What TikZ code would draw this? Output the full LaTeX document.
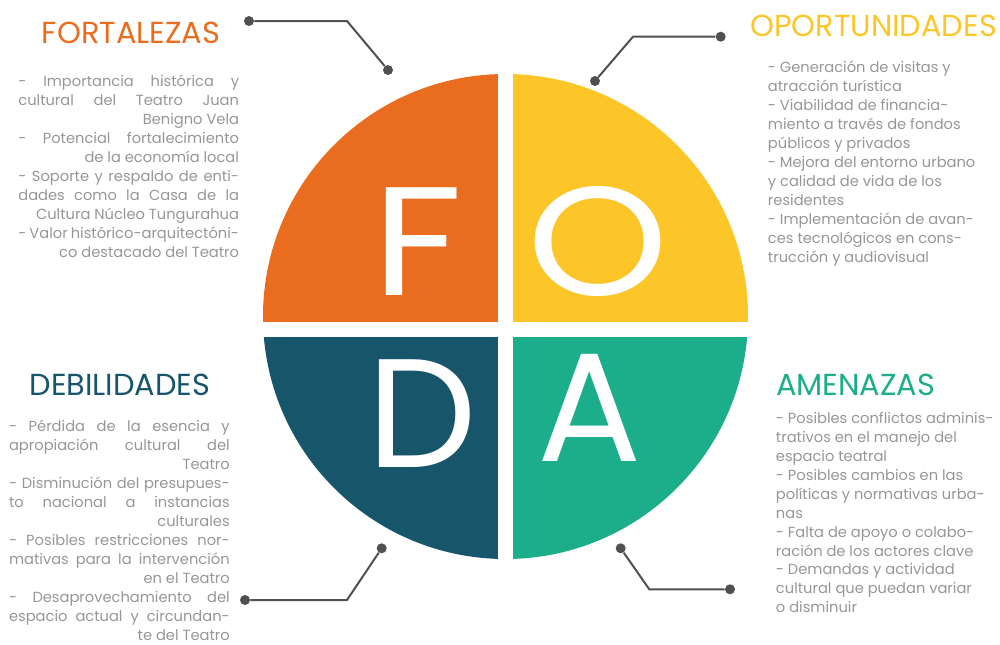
\documentclass[tikz,border=0pt]{standalone}
\usepackage{fontspec}
\setmainfont{Poppins}
\usetikzlibrary{positioning}

\definecolor{cF}{RGB}{234,108,30}
\definecolor{cO}{RGB}{252,198,40}
\definecolor{cD}{RGB}{23,86,106}
\definecolor{cA}{RGB}{28,174,138}
\definecolor{txtgray}{RGB}{150,150,150}
\definecolor{lngray}{RGB}{80,80,80}

% one line of a justified block, and a flush right last line
\newlength{\lw}
\setlength{\lw}{165.5pt}
\newcommand{\jl}[1]{\makebox[\lw][s]{#1}}
\newcommand{\rl}[1]{\makebox[\lw][r]{#1}}

\begin{document}
\begin{tikzpicture}[
  x=0.75pt, y=-0.75pt,
  ttl/.style={anchor=base west, inner sep=0pt, font=\fontsize{22.8}{22.8}\selectfont},
  txt/.style={inner sep=0pt, align=left, text=txtgray, font=\fontsize{11}{14.2}\selectfont},
  big/.style={anchor=base, inner sep=0pt, text=white, font=\fontsize{116}{116}\selectfont},
  wide/.style={font=\fontsize{116}{116}\selectfont\addfontfeatures{FakeStretch=1.16}},
  dot/.style={circle, fill=lngray, inner sep=0pt, minimum size=7.5pt},
  ln/.style={draw=lngray, line width=1.5pt}
]
\useasboundingbox (0,0) rectangle (1000,644);

% the disc in four quarters
\begin{scope}
  \clip (505.5,316.5) circle (242.5);
  \fill[cF] (255,65) rectangle (505.5,329);
  \fill[cO] (505.5,65) rectangle (755,329);
  \fill[cD] (255,329) rectangle (505.5,565);
  \fill[cA] (505.5,329) rectangle (755,565);
\end{scope}
\fill[white] (498,60) rectangle (513,570);
\fill[white] (255,321.7) rectangle (755,336.7);

\node[big, wide] (F) at (418,295.7) {F};
\node[big, wide] (O) at (598,295.7) {O};
\node[big] (D) at (422,467) {D};
\node[big] (A) at (590,461.7) {A};

% titles
\node[ttl, text=cF] (fort) at (41.7,43.3) {FORTALEZAS};
\node[ttl, text=cO] (oport) at (750,36) {OPORTUNIDADES};
\node[ttl, text=cD] (debil) at (29.3,395) {DEBILIDADES};
\node[ttl, text=cA] (amen) at (776,395) {AMENAZAS};

% lists
\node[txt, anchor=north east] (fortlist) at (239.3,75) {%
  \jl{- Importancia histórica y}\\
  \jl{cultural del Teatro Juan}\\
  \rl{Benigno Vela}\\
  \jl{- Potencial fortalecimiento}\\
  \rl{de la economía local}\\
  \jl{- Soporte y respaldo de enti-}\\
  \jl{dades como la Casa de la}\\
  \rl{Cultura Núcleo Tungurahua}\\
  \jl{- Valor histórico-arquitectóni-}\\
  \rl{co destacado del Teatro}};
\node[txt, anchor=north west] (oportlist) at (767.7,61) {%
  - Generación de visitas y\\
  atracción turística\\
  - Viabilidad de financia-\\
  miento a través de fondos\\
  públicos y privados\\
  - Mejora del entorno urbano\\
  y calidad de vida de los\\
  residentes\\
  - Implementación de avan-\\
  ces tecnológicos en cons-\\
  trucción y audiovisual};
\node[txt, anchor=north east] (debillist) at (230,420) {%
  \jl{- Pérdida de la esencia y}\\
  \jl{apropiación cultural del}\\
  \rl{Teatro}\\
  \jl{- Disminución del presupues-}\\
  \jl{to nacional a instancias}\\
  \rl{culturales}\\
  \jl{- Posibles restricciones nor-}\\
  \jl{mativas para la intervención}\\
  \rl{en el Teatro}\\
  \jl{- Desaprovechamiento del}\\
  \jl{espacio actual y circundan-}\\
  \rl{te del Teatro}};
\node[txt, anchor=north west] (amenlist) at (775.7,412) {%
  - Posibles conflictos adminis-\\
  trativos en el manejo del\\
  espacio teatral\\
  - Posibles cambios en las\\
  políticas y normativas urba-\\
  nas\\
  - Falta de apoyo o colabo-\\
  ración de los actores clave\\
  - Demandas y actividad\\
  cultural que puedan variar\\
  o disminuir};

% pointers
\node[dot] (fa) at (249,21) {};
\coordinate (fk) at (347,21);
\node[dot] (fb) at (388,70) {};
\draw[ln] (fa) -- (fk) -- (fb);

\node[dot] (oa) at (720.7,36.7) {};
\coordinate (ok) at (633,36.7);
\node[dot] (ob) at (595,81) {};
\draw[ln] (oa) -- (ok) -- (ob);

\node[dot] (da) at (245,600) {};
\coordinate (dk) at (347,600);
\node[dot] (db) at (381.7,548.3) {};
\draw[ln] (da) -- (dk) -- (db);

\node[dot] (aa) at (620.7,548.3) {};
\coordinate (ak) at (649.3,589.3);
\node[dot] (ab) at (730,589.3) {};
\draw[ln] (aa) -- (ak) -- (ab);
\end{tikzpicture}
\end{document}
